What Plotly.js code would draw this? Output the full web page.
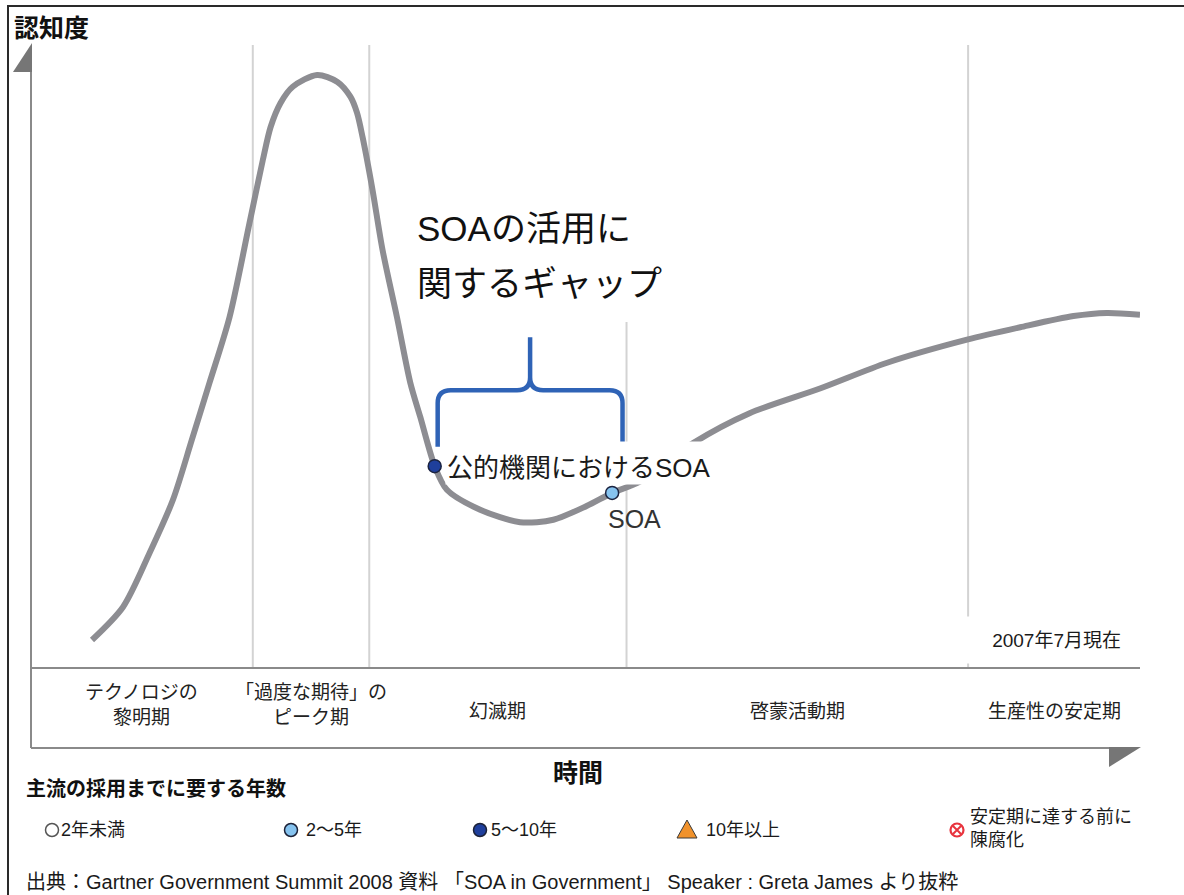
<!DOCTYPE html>
<html>
<head>
<meta charset="utf-8">
<script src="https://cdn.plot.ly/plotly-3.0.1.min.js"></script>
<style>
  html, body { margin: 0; padding: 0; background: #ffffff; }
  #chart { width: 1184px; height: 895px; }
</style>
</head>
<body>
<div id="chart"></div>
<script>
// ---- Hype cycle curve: time (0-100) against visibility (0-100) ----
const curveTime = [5.5, 8.3, 10.7, 12.8, 14.5, 16.1, 17.9, 19.7, 20.9, 21.6, 22.5, 23.6, 25.8, 27.6,
  28.8, 29.4, 29.9, 30.8, 31.7, 33.0, 34.2, 35.1, 36.4, 37.5, 40.5, 44.1, 47.1, 50.1, 52.4, 54.9,
  59.7, 64.8, 71.2, 77.2, 84.4, 89.2, 94.0, 97.0, 100.0];
const curveVisibility = [4.5, 9.8, 18.5, 27.0, 36.6, 45.8, 56.3, 71.4, 81.5, 86.8, 90.7, 93.3, 95.2, 94.1,
  91.7, 89.1, 85.2, 76.7, 67.1, 56.3, 45.8, 40.3, 32.4, 28.6, 25.4, 23.4, 23.8, 26.0, 28.1, 29.9,
  36.1, 40.9, 44.9, 49.0, 52.7, 54.7, 56.5, 57.0, 56.7];

// ---- Technologies on the curve ----
const techNames = ['公的機関におけるSOA', 'SOA'];
const techTime = [36.4, 52.4];
const techVisibility = [32.4, 28.1];
const techYears = ['5〜10年', '2〜5年'];

// ---- Phases along the time axis ----
const phaseBounds = [20.0, 30.5, 53.7, 84.5];
const phaseNames = ['テクノロジの<br>黎明期', '「過度な期待」の<br>ピーク期', '幻滅期', '啓蒙活動期', '生産性の安定期'];

// ---- Years to mainstream adoption (key) ----
const legendLabels = ['2年未満', '2〜5年', '5〜10年', '10年以上', '安定期に達する前に<br>陳腐化'];
const legendColors = ['#ffffff', '#86c3ef', '#1f3f9c', '#f0922c', '#e8343e'];

// ---- Text ----
const yTitle = '認知度';
const xTitle = '時間';
const gapTitle = ['SOAの活用に', '関するギャップ'];
const keyTitle = '主流の採用までに要する年数';
const asOf = '2007年7月現在';
const source = '出典：Gartner Government Summit 2008 資料 「SOA in Government」 Speaker : Greta James より抜粋';

// ---- Page geometry (pixels) and helpers to paper coordinates ----
const PLOT_L = 31, PLOT_R = 1140, PLOT_T = 45, PLOT_B = 748, BAND_TOP = 668;
const px = x => (x - PLOT_L) / (PLOT_R - PLOT_L);
const py = y => (PLOT_B - y) / (PLOT_B - PLOT_T);
const unitX = 100 / (PLOT_R - PLOT_L);      // time units per pixel
const unitY = 100 / (BAND_TOP - PLOT_T);    // visibility units per pixel

const FONT = "'Liberation Sans', 'Noto Sans CJK JP', sans-serif";
const AXIS_GRAY = '#8a8a8a';

const shapes = [];
const annotations = [];

// outer frame (top and left edges)
shapes.push({type: 'line', xref: 'paper', yref: 'paper', x0: px(7), x1: px(1184), y0: py(6), y1: py(6),
  line: {color: '#2a2a2a', width: 2}});
shapes.push({type: 'line', xref: 'paper', yref: 'paper', x0: px(8), x1: px(8), y0: py(895), y1: py(5),
  line: {color: '#2a2a2a', width: 2}});

// axes, phase band and arrow heads
shapes.push({type: 'line', xref: 'paper', yref: 'paper', x0: 0, x1: 0, y0: 0, y1: py(72),
  line: {color: AXIS_GRAY, width: 2}});
shapes.push({type: 'line', xref: 'paper', yref: 'paper', x0: 0, x1: px(1110), y0: 0, y1: 0,
  line: {color: AXIS_GRAY, width: 2}});
shapes.push({type: 'line', xref: 'paper', yref: 'paper', x0: 0, x1: 1, y0: py(BAND_TOP), y1: py(BAND_TOP),
  line: {color: AXIS_GRAY, width: 2}});
shapes.push({type: 'path', xref: 'paper', yref: 'paper',
  path: `M ${px(32)} ${py(43)} L ${px(32)} ${py(72)} L ${px(13)} ${py(72)} Z`,
  fillcolor: '#767676', line: {width: 0}});
shapes.push({type: 'path', xref: 'paper', yref: 'paper',
  path: `M ${px(1109)} ${py(747)} L ${px(1141)} ${py(747)} L ${px(1109)} ${py(767)} Z`,
  fillcolor: '#767676', line: {width: 0}});

// phase boundaries
phaseBounds.forEach((b, i) => {
  shapes.push({type: 'line', xref: 'x', yref: 'paper', x0: b, x1: b,
    y0: py(BAND_TOP), y1: i === 2 ? py(322) : py(PLOT_T),
    line: {color: '#d3d3d3', width: 2}, layer: 'below'});
});

// brace spanning the gap between the two technologies
(function () {
  const l = techTime[0] + 3 * unitX;
  const r = phaseBounds[2] - 4 * unitX;
  const c = (l + r) / 2;
  const yLeg = 35.5, yBar = 44.6, yTip = 53.1;
  const rx = 13 * unitX, ry = 13 * unitY;
  const path = [
    `M ${l} ${yLeg}`, `L ${l} ${yBar - ry}`, `Q ${l} ${yBar} ${l + rx} ${yBar}`,
    `L ${c - rx} ${yBar}`, `Q ${c} ${yBar} ${c} ${yBar + ry}`, `L ${c} ${yTip}`,
    `M ${c} ${yBar + ry}`, `Q ${c} ${yBar} ${c + rx} ${yBar}`,
    `L ${r - rx} ${yBar}`, `Q ${r} ${yBar} ${r} ${yBar - ry}`, `L ${r} ${yLeg}`
  ].join(' ');
  shapes.push({type: 'path', xref: 'x', yref: 'y', path: path,
    line: {color: '#2f63b6', width: 4.5}});
})();

// key symbols
const keyX = [52, 291, 480, 687, 957];
const keyY = 830;
[0, 1, 2].forEach(i => {
  const r = 6.5;
  shapes.push({type: 'circle', xref: 'paper', yref: 'paper',
    x0: px(keyX[i] - r), x1: px(keyX[i] + r), y0: py(keyY + r), y1: py(keyY - r),
    fillcolor: legendColors[i], line: {color: i === 0 ? '#555555' : '#1c2238', width: 1.5}});
});
shapes.push({type: 'path', xref: 'paper', yref: 'paper',
  path: `M ${px(keyX[3])} ${py(820)} L ${px(keyX[3] + 10)} ${py(838)} L ${px(keyX[3] - 10)} ${py(838)} Z`,
  fillcolor: legendColors[3], line: {color: '#3a3a3a', width: 1}});
shapes.push({type: 'circle', xref: 'paper', yref: 'paper',
  x0: px(keyX[4] - 6.5), x1: px(keyX[4] + 6.5), y0: py(keyY + 6.5), y1: py(keyY - 6.5),
  fillcolor: '#ffffff', line: {color: legendColors[4], width: 2.2}});
shapes.push({type: 'path', xref: 'paper', yref: 'paper',
  path: `M ${px(keyX[4] - 4)} ${py(keyY - 4)} L ${px(keyX[4] + 4)} ${py(keyY + 4)} ` +
        `M ${px(keyX[4] - 4)} ${py(keyY + 4)} L ${px(keyX[4] + 4)} ${py(keyY - 4)}`,
  line: {color: legendColors[4], width: 2}});

// key labels
const keyTextX = [59, 304, 489, 704, 968];
legendLabels.forEach((t, i) => {
  annotations.push({xref: 'paper', yref: 'paper', x: px(keyTextX[i]), y: py(i === 4 ? 828 : keyY),
    xanchor: 'left', yanchor: 'middle', align: 'left', showarrow: false, text: t,
    font: {family: FONT, size: 18, color: '#1a1a1a'}});
});

// axis titles and headings
annotations.push({xref: 'paper', yref: 'paper', x: px(12), y: py(28), xanchor: 'left', yanchor: 'middle',
  showarrow: false, text: yTitle, font: {family: FONT, size: 25, weight: 'bold', color: '#111111'}});
annotations.push({xref: 'paper', yref: 'paper', x: px(578), y: py(773), xanchor: 'center', yanchor: 'middle',
  showarrow: false, text: xTitle, font: {family: FONT, size: 25, weight: 'bold', color: '#111111'}});
annotations.push({xref: 'paper', yref: 'paper', x: px(24), y: py(789), xanchor: 'left', yanchor: 'middle',
  showarrow: false, text: keyTitle, font: {family: FONT, size: 20, weight: 'bold', color: '#111111'}});
annotations.push({xref: 'paper', yref: 'paper', x: px(24), y: py(882), xanchor: 'left', yanchor: 'middle',
  showarrow: false, text: source, font: {family: FONT, size: 20, color: '#1a1a1a'}});

// phase names, centred in each phase
const phaseEdges = [0].concat(phaseBounds, [100]);
phaseNames.forEach((n, i) => {
  const twoLine = n.indexOf('<br>') >= 0;
  annotations.push({xref: 'x', yref: 'paper', x: (phaseEdges[i] + phaseEdges[i + 1]) / 2,
    y: py(twoLine ? 705 : 711), xanchor: 'center', yanchor: 'middle', align: 'center',
    showarrow: false, text: n, font: {family: FONT, size: 19, color: '#222222'}});
});

// date note
annotations.push({xref: 'paper', yref: 'paper', x: px(1122), y: py(640), xanchor: 'right', yanchor: 'middle',
  width: 160, height: 46, align: 'right', valign: 'middle', bgcolor: '#ffffff', borderpad: 0,
  showarrow: false, text: asOf, font: {family: FONT, size: 19, color: '#1a1a1a'}});

// gap heading
gapTitle.forEach((t, i) => {
  annotations.push({xref: 'paper', yref: 'paper', x: px(415), y: py(i === 0 ? 228 : 283),
    xanchor: 'left', yanchor: 'middle', showarrow: false, text: t,
    font: {family: FONT, size: 35, color: '#111111'}});
});

// technology labels
annotations.push({xref: 'x', yref: 'y', x: techTime[0], y: techVisibility[0], xanchor: 'left', yanchor: 'middle',
  xshift: 10, yshift: 3, height: 40, valign: 'bottom', bgcolor: '#ffffff', borderpad: 1,
  showarrow: false, text: techNames[0], font: {family: FONT, size: 26, color: '#1a1a1a'}});
annotations.push({xref: 'x', yref: 'y', x: techTime[1], y: techVisibility[1], xanchor: 'center', yanchor: 'middle',
  xshift: 22, yshift: -26, showarrow: false, text: techNames[1],
  font: {family: FONT, size: 25, color: '#333333'}});

const traces = [
  {type: 'scatter', mode: 'lines', x: curveTime, y: curveVisibility,
    line: {color: '#8d8d92', width: 6, shape: 'spline', smoothing: 0.8}, hoverinfo: 'skip'},
  {type: 'scatter', mode: 'markers', x: techTime, y: techVisibility, text: techNames,
    marker: {size: 13, color: techYears.map(y => legendColors[legendLabels.indexOf(y)]),
      line: {color: '#1b2340', width: 1.5}}, hoverinfo: 'text'}
];

const layout = {
  width: 1184, height: 895,
  margin: {l: PLOT_L, r: 1184 - PLOT_R, t: PLOT_T, b: 895 - PLOT_B, pad: 0},
  paper_bgcolor: '#ffffff', plot_bgcolor: '#ffffff',
  showlegend: false,
  font: {family: FONT},
  xaxis: {range: [0, 100], visible: false, fixedrange: true},
  yaxis: {range: [0, 100], visible: false, fixedrange: true,
    domain: [py(BAND_TOP), 1]},
  shapes: shapes,
  annotations: annotations
};

Plotly.newPlot('chart', traces, layout, {staticPlot: true, displayModeBar: false});
</script>
</body>
</html>
